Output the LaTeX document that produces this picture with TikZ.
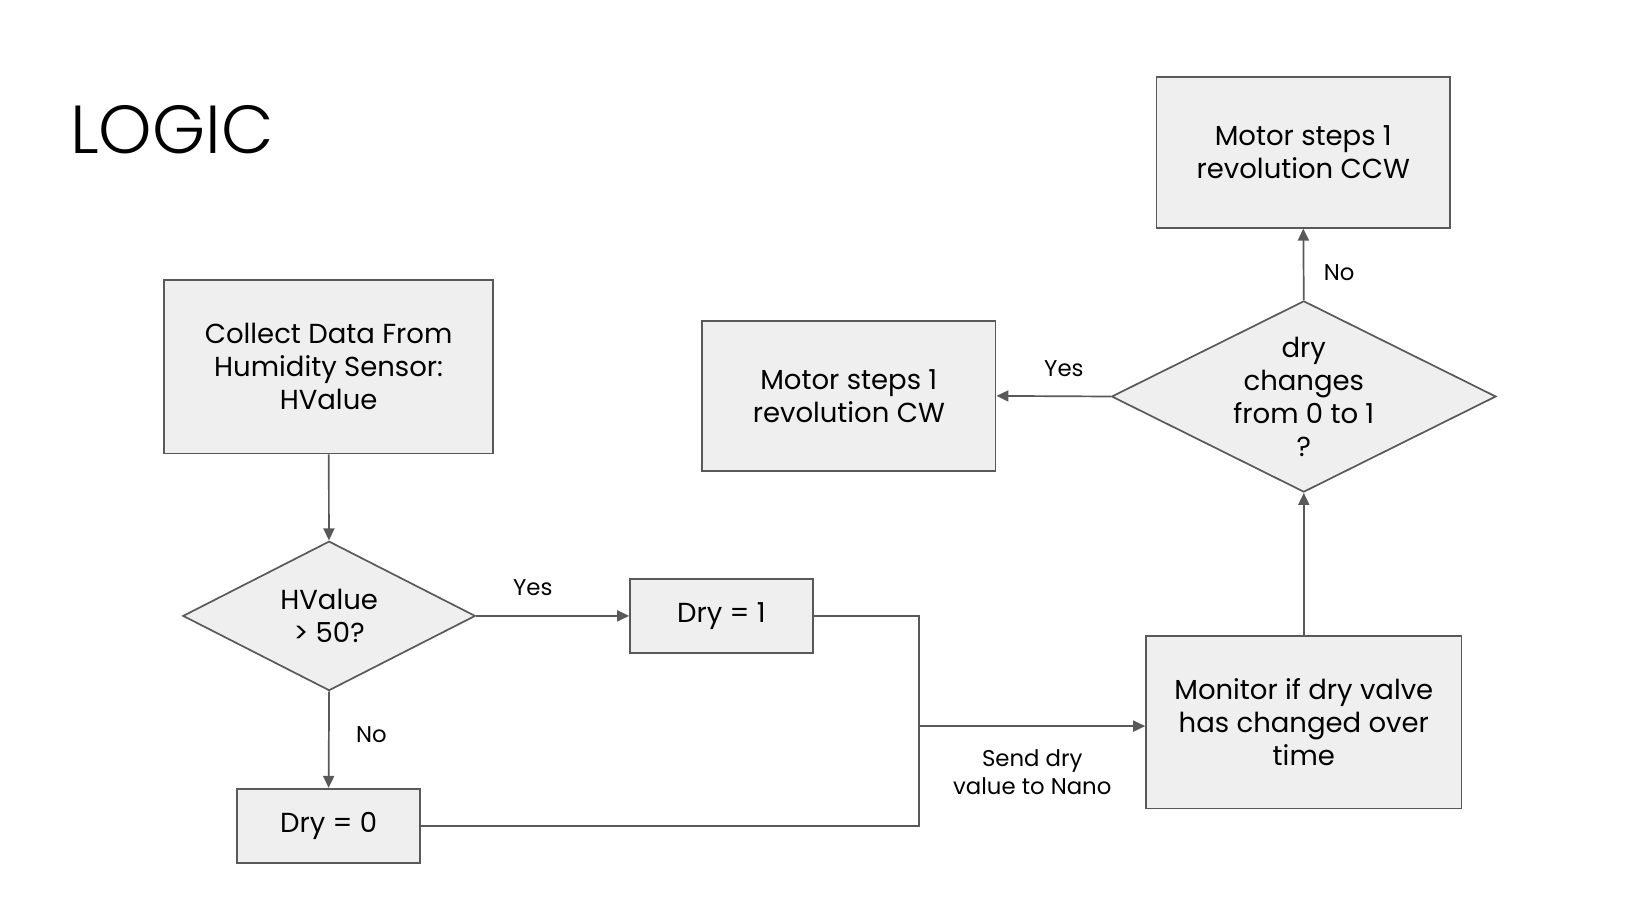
\documentclass[tikz,border=0pt]{standalone}
\usepackage{fontspec}
\setmainfont{Poppins}
\newfontfamily\titlefont{Poppins Light}
\usepackage{tikz}
\usepackage{xcolor}
\usetikzlibrary{positioning,calc}
\usetikzlibrary{shapes.geometric,arrows.meta}
\definecolor{boxgray}{RGB}{239, 239, 239}
\definecolor{linegray}{RGB}{89, 89, 89}

\begin{document}
\begin{tikzpicture}[x=1pt,y=-1pt,
        block/.style={draw=linegray,fill=boxgray,line width=1.7pt,align=center,
            font=\fontsize{27.5}{33}\selectfont},
        decision/.style={diamond,draw=linegray,fill=boxgray,line width=1.7pt,inner sep=0pt},
        inside/.style={align=center,font=\fontsize{27.5}{33}\selectfont},
        line/.style={draw=linegray,line width=1.7pt},
        arrow/.style={line,-{Triangle[length=12pt,width=11pt]}},
        lbl/.style={font=\fontsize{22.8}{28.5}\selectfont,align=center}]
        \useasboundingbox (0,0) rectangle (1636,920);

        % Title
        \node[anchor=base west,inner sep=0pt,font=\titlefont\fontsize{68}{72}\selectfont] at (70,153.6) {LOGIC};

        % Left column
        \node[block,minimum width=329pt,minimum height=173.4pt] (collect) at (328.6,366.7) {Collect Data From\\Humidity Sensor:\\HValue};
        \node[decision,minimum width=292.5pt,minimum height=149.4pt] (check) at (329.1,615.9) {};
        \node[inside] at (check) {HValue\\> 50?};
        \node[block,minimum width=182.8pt,minimum height=74.2pt] (dry1) at (721.4,615.9) {Dry = 1};
        \node[block,minimum width=182.8pt,minimum height=74.2pt] (dry0) at (328.6,825.8) {Dry = 0};

        % Right column
        \node[block,minimum width=315.5pt,minimum height=172.4pt] (monitor) at (1303.8,722.4) {Monitor if dry valve\\has changed over\\time};
        \node[decision,minimum width=384.4pt,minimum height=191.2pt] (change) at (1303.8,396.5) {};
        \node[inside] at (change) {dry\\changes\\from 0 to 1\\?};
        \node[block,minimum width=293.6pt,minimum height=150.4pt] (cw) at (848.8,395.9) {Motor steps 1\\revolution CW};
        \node[block,minimum width=293.6pt,minimum height=150.4pt] (ccw) at (1303.3,152.5) {Motor steps 1\\revolution CCW};

        % Connectors
        \draw[arrow] (collect) -- (check);
        \draw[arrow] (check.east) -- (dry1.west) node[pos=0.37,above=16pt,lbl] {Yes};
        \draw[arrow] (check.south) -- (dry0.north) node[pos=0.45,right=23pt,lbl] {No};

        \coordinate (mergeB) at (919.3,825.8);
        \coordinate (mergeM) at (919.3,726.1);
        \draw[line] (dry1.east) -| (mergeB) -- (dry0.east);
        \draw[arrow] (mergeM) -- (mergeM -| monitor.west) node[midway,below=19pt,lbl] {Send dry\\value to Nano};

        \draw[arrow] (monitor.north) -- (change.south);
        \draw[arrow] (change.west) -- (cw.east) node[pos=0.41,above=15pt,lbl] {Yes};
        \draw[arrow] (change.north) -- (ccw.south) node[pos=0.39,right=16pt,lbl] {No};
    \end{tikzpicture}
\end{document}
